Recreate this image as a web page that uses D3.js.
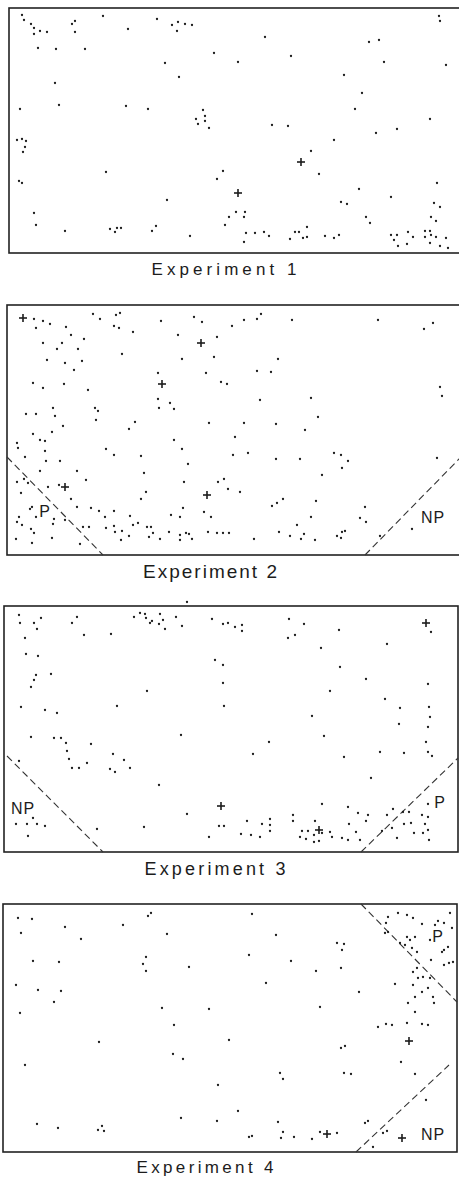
<!DOCTYPE html>
<html>
<head>
<meta charset="utf-8">
<script src="https://cdn.jsdelivr.net/npm/d3@7"></script>
<style>
  body { margin: 0; background: #fff; }
  svg { display: block; }
</style>
</head>
<body>
<div id="chart"></div>
<script>
// Arena coordinates of each recorded position, measured from the top-left corner of each arena
const experiments = ["Experiment 1", "Experiment 2", "Experiment 3", "Experiment 4"];

const exp1Dots = [
  [13,7],[15,12],[22,16],[25,20],[25,26],[31,23],[38,24],[29,40],[47,41],[76,41],[63,16],[66,13],[66,24],[94,8],
  [119,21],[148,11],[163,17],[169,14],[168,23],[176,16],[183,17],[205,45],[156,55],[170,69],[46,75],[50,97],
  [11,101],[117,98],[139,101],[194,102],[196,108],[187,111],[189,116],[196,113],[200,120],[8,132],[13,131],
  [17,133],[16,139],[14,144],[97,164],[214,163],[208,171],[10,173],[13,175],[158,192],[25,205],[27,217],
  [56,223],[101,221],[106,224],[108,220],[112,220],[143,223],[147,218],[181,228],[216,217],[220,209],
  [430,8],[431,13],[256,29],[360,34],[370,32],[229,54],[282,48],[375,54],[437,57],[335,67],[353,85],[346,101],
  [421,111],[263,117],[279,118],[388,121],[367,125],[325,132],[302,143],[310,166],[428,175],[350,181],[382,189],
  [332,194],[338,196],[425,195],[431,199],[227,204],[236,204],[235,209],[357,209],[361,215],[422,209],
  [427,213],[237,225],[246,225],[255,224],[260,228],[235,234],[286,224],[290,224],[298,219],[281,231],[294,230],
  [298,229],[316,228],[325,230],[330,227],[382,227],[388,227],[385,232],[389,238],[398,236],[399,224],[404,229],
  [416,223],[421,223],[416,229],[422,227],[427,229],[437,230],[421,235],[431,238],[439,240]
];
const exp1Crosses = [[292,154],[229,185]];

const exp2Dots = [
  [27,14],[36,16],[43,19],[29,23],[86,9],[93,14],[109,10],[113,8],[107,21],[112,23],[126,27],[154,16],[187,12],
  [195,17],[59,22],[64,30],[77,34],[36,38],[55,38],[50,44],[71,44],[40,55],[58,58],[75,56],[67,65],[115,49],
  [171,30],[175,54],[210,32],[207,52],[199,68],[151,68],[214,77],[220,79],[26,78],[36,83],[57,79],[81,85],
  [46,103],[48,111],[19,109],[29,109],[88,103],[91,106],[89,115],[56,121],[128,117],[122,124],[151,94],[152,103],
  [163,98],[167,104],[202,118],[26,129],[33,135],[38,136],[45,127],[10,138],[11,143],[38,146],[99,144],[107,150],
  [134,151],[167,135],[175,144],[18,152],[39,156],[53,156],[181,159],[33,166],[70,166],[137,168],[10,177],
  [17,174],[21,178],[41,182],[52,180],[79,175],[177,177],[211,177],[217,174],[221,184],[14,188],[64,194],
  [139,187],[134,194],[70,202],[84,203],[92,206],[107,206],[98,212],[123,211],[164,210],[173,212],[176,203],
  [197,207],[204,212],[12,212],[10,217],[15,220],[23,204],[25,202],[29,212],[58,215],[47,214],[46,219],[24,224],
  [27,228],[9,234],[25,238],[45,233],[73,239],[76,222],[82,222],[99,223],[107,221],[108,227],[115,226],[114,235],
  [122,231],[126,220],[131,218],[140,222],[144,222],[146,228],[142,232],[153,234],[162,227],[173,230],[173,235],
  [179,228],[182,229],[185,234],[201,227],[210,228],[216,228],[222,228],
  [225,21],[237,15],[250,14],[254,9],[285,15],[371,15],[417,24],[426,18],[271,54],[250,66],[264,67],[433,82],
  [435,91],[253,95],[304,93],[311,112],[237,118],[269,119],[298,125],[228,132],[226,150],[241,148],[269,154],
  [293,154],[327,148],[334,150],[341,156],[335,163],[315,170],[430,153],[233,187],[265,201],[270,198],[276,194],
  [309,196],[304,212],[290,220],[358,202],[353,213],[359,217],[247,234],[272,227],[283,231],[294,234],
  [297,229],[308,235],[330,231],[335,227],[338,226],[334,233],[373,231],[405,224]
];
const exp2Crosses = [[16,13],[194,38],[155,79],[58,182],[200,190]];

const exp3Dots = [
  [15,9],[16,17],[30,17],[37,12],[33,23],[68,17],[73,11],[80,29],[107,28],[130,11],[136,7],[141,8],[142,12],
  [146,17],[148,15],[155,18],[156,8],[159,14],[161,23],[172,11],[178,20],[208,13],[219,18],[224,17],[21,32],
  [22,48],[34,50],[32,69],[30,74],[27,81],[47,68],[211,54],[219,59],[219,77],[143,85],[17,101],[41,104],[53,107],
  [113,100],[220,100],[27,131],[50,132],[57,132],[62,137],[63,145],[65,153],[68,162],[75,162],[83,157],[87,138],
  [109,148],[120,154],[126,162],[106,163],[111,166],[177,129],[15,155],[155,179],[12,218],[23,218],[29,212],
  [33,218],[41,220],[24,230],[93,223],[140,221],[183,208],[205,231],[215,220],[220,220],[183,-4],
  [231,21],[238,19],[238,25],[285,13],[300,18],[291,29],[284,32],[335,24],[317,42],[383,38],[427,26],[336,61],
  [362,73],[424,78],[326,85],[381,93],[396,102],[425,101],[308,110],[426,111],[395,118],[424,121],[320,130],
  [265,136],[422,136],[424,146],[428,150],[249,148],[340,151],[376,146],[400,147],[367,172],[318,198],[344,201],
  [354,207],[364,209],[362,215],[383,209],[389,203],[399,206],[405,206],[418,209],[424,211],[421,218],[424,224],
  [419,227],[425,234],[410,227],[400,218],[407,217],[388,222],[393,232],[378,225],[345,218],[352,226],[243,215],
  [258,218],[266,213],[266,219],[266,225],[289,209],[289,215],[311,215],[237,228],[247,229],[256,231],[298,225],
  [304,225],[310,229],[318,227],[296,231],[302,233],[310,236],[315,235],[326,226],[328,231],[338,232],[344,234],
  [356,234],[424,198]
];
const exp3Crosses = [[217,200],[422,17],[315,224]];

const exp4Dots = [
  [15,14],[29,15],[62,23],[18,29],[78,35],[120,21],[145,12],[148,9],[164,30],[30,57],[56,58],[143,53],[140,60],
  [143,67],[186,63],[13,81],[35,86],[58,87],[51,98],[17,109],[159,104],[206,105],[171,121],[226,136],[96,138],
  [22,161],[170,150],[180,155],[215,181],[34,220],[55,224],[95,226],[99,222],[101,227],[178,214],[214,217],
  [249,10],[273,31],[246,51],[288,57],[313,67],[338,64],[334,39],[341,40],[339,46],[263,79],[356,88],[317,103],
  [338,144],[342,142],[277,169],[280,175],[341,169],[348,170],[235,207],[275,218],[280,228],[278,234],[291,233],
  [309,235],[317,228],[334,229],[246,233],[249,232],[365,217],[362,219],[380,229],[384,227],[370,243],
  [395,9],[404,11],[385,13],[410,14],[419,20],[432,21],[435,17],[441,19],[447,9],[449,24],[383,19],[382,29],
  [385,28],[397,39],[404,33],[407,36],[412,33],[402,41],[409,44],[414,48],[427,36],[439,48],[441,46],[445,43],
  [428,56],[441,61],[446,59],[450,58],[414,64],[410,68],[415,74],[420,73],[427,74],[392,80],[410,81],[425,84],
  [419,88],[412,93],[430,93],[431,99],[405,99],[412,108],[375,123],[383,120],[389,121],[404,119],[419,120],
  [425,121],[398,158],[412,170],[423,196]
];
const exp4Crosses = [[406,137],[324,230],[399,234]];

// dashed region boundaries with their labels (arena coordinates)
const boundaries = [
  { exp: 1, label: "P",  line: [[0,152],[96,250]],   labelAt: [38,212] },
  { exp: 1, label: "NP", line: [[358,250],[453,153]], labelAt: [426,218] },
  { exp: 2, label: "NP", line: [[3,150],[99,246]],   labelAt: [19,208] },
  { exp: 2, label: "P",  line: [[357,246],[454,152]], labelAt: [436,202] },
  { exp: 3, label: "P",  line: [[358,0],[454,98]],   labelAt: [435,38] },
  { exp: 3, label: "NP", line: [[353,248],[446,161]], labelAt: [430,236] }
];

const allDots = [exp1Dots, exp2Dots, exp3Dots, exp4Dots];
const allCrosses = [exp1Crosses, exp2Crosses, exp3Crosses, exp4Crosses];

// page layout of the four arenas
const layout = [
  { left: 9, top: 8,   right: 460, bottom: 253,  titleX: 224, titleY: 275,  titleLen: 145, titleSize: 17 },
  { left: 7, top: 305, right: 460, bottom: 555,  titleX: 210, titleY: 578,  titleLen: 134, titleSize: 19 },
  { left: 4, top: 606, right: 458, bottom: 852,  titleX: 215, titleY: 875,  titleLen: 141, titleSize: 18 },
  { left: 3, top: 904, right: 457, bottom: 1152, titleX: 205, titleY: 1173, titleLen: 137, titleSize: 17 }
];

const width = 459, height = 1178;
const ink = "#1c1c1c";

const svg = d3.select("#chart").append("svg")
  .attr("width", width)
  .attr("height", height)
  .attr("viewBox", `0 0 ${width} ${height}`);

experiments.forEach((name, i) => {
  const L = layout[i];
  const x = d3.scaleLinear().domain([0, L.right - L.left]).range([L.left, L.right]);
  const y = d3.scaleLinear().domain([0, L.bottom - L.top]).range([L.top, L.bottom]);
  const g = svg.append("g").attr("class", "arena");

  // arena frame
  g.append("rect")
    .attr("x", x(0)).attr("y", y(0))
    .attr("width", x(L.right - L.left) - x(0))
    .attr("height", y(L.bottom - L.top) - y(0))
    .attr("fill", "none")
    .attr("stroke", "#222")
    .attr("stroke-width", 1.6);

  // dashed boundaries
  const line = d3.line().x(d => x(d[0])).y(d => y(d[1]));
  const bs = boundaries.filter(b => b.exp === i);
  g.selectAll(".boundary").data(bs).enter().append("path")
    .attr("class", "boundary")
    .attr("d", d => line(d.line))
    .attr("fill", "none")
    .attr("stroke", "#333")
    .attr("stroke-width", 1.1)
    .attr("stroke-dasharray", "7,4");

  g.selectAll(".region-label").data(bs).enter().append("text")
    .attr("class", "region-label")
    .attr("x", d => x(d.labelAt[0]))
    .attr("y", d => y(d.labelAt[1]))
    .attr("text-anchor", "middle")
    .attr("font-family", "Liberation Sans, Arial, sans-serif")
    .attr("font-size", 16)
    .attr("letter-spacing", 1)
    .attr("fill", ink)
    .text(d => d.label);

  // positions
  g.selectAll(".dot").data(allDots[i]).enter().append("circle")
    .attr("class", "dot")
    .attr("cx", d => x(d[0]))
    .attr("cy", d => y(d[1]))
    .attr("r", 1.15)
    .attr("fill", ink);

  // crosses
  const arm = 4;
  const crosses = g.selectAll(".cross").data(allCrosses[i]).enter().append("g").attr("class", "cross");
  crosses.append("line")
    .attr("x1", d => x(d[0]) - arm).attr("x2", d => x(d[0]) + arm)
    .attr("y1", d => y(d[1])).attr("y2", d => y(d[1]));
  crosses.append("line")
    .attr("x1", d => x(d[0])).attr("x2", d => x(d[0]))
    .attr("y1", d => y(d[1]) - arm).attr("y2", d => y(d[1]) + arm);
  crosses.selectAll("line").attr("stroke", ink).attr("stroke-width", 1.6);

  // caption
  svg.append("text")
    .attr("x", L.titleX)
    .attr("y", L.titleY)
    .attr("text-anchor", "middle")
    .attr("font-family", "Liberation Sans, Arial, sans-serif")
    .attr("font-size", L.titleSize)
    .attr("textLength", L.titleLen)
    .attr("lengthAdjust", "spacing")
    .attr("fill", ink)
    .text(name);
});
</script>
</body>
</html>
